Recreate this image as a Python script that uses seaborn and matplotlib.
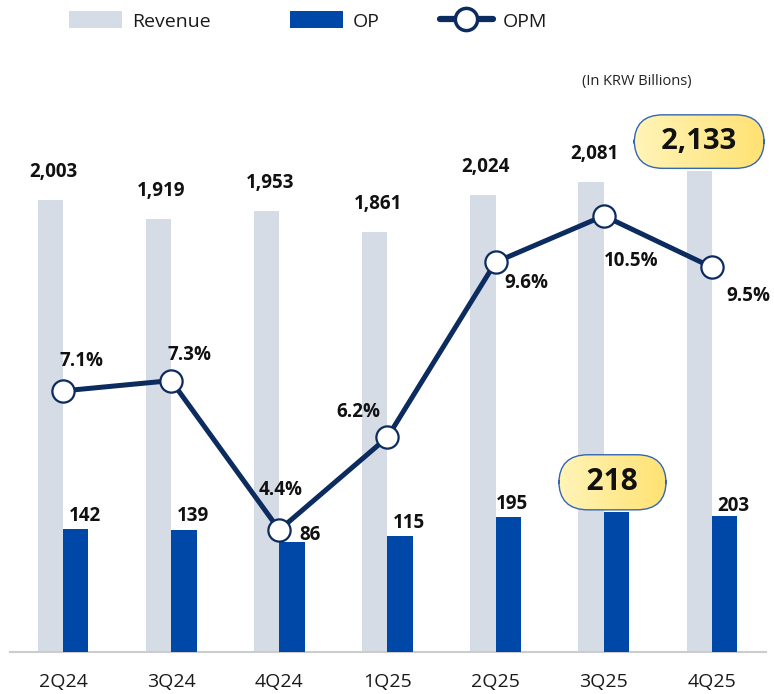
import numpy as np
import matplotlib
matplotlib.use("Agg")
import matplotlib.pyplot as plt
import seaborn as sns
from matplotlib.lines import Line2D
from matplotlib.patches import Patch
from matplotlib.colors import LinearSegmentedColormap

# ---------------- data ----------------
quarters = ["2Q24", "3Q24", "4Q24", "1Q25", "2Q25", "3Q25", "4Q25"]
revenue = [2003, 1919, 1953, 1861, 2024, 2081, 2133]
op = [142, 139, 86, 115, 195, 218, 203]
opm = [7.1, 7.3, 4.4, 6.2, 9.6, 10.5, 9.5]
revenue_labels = ["2,003", "1,919", "1,953", "1,861", "2,024", "2,081", "2,133"]
op_labels = ["142", "139", "86", "115", "195", "218", "203"]
opm_labels = ["7.1%", "7.3%", "4.4%", "6.2%", "9.6%", "10.5%", "9.5%"]
highlight_rev = 6
highlight_op = 5

# ---------------- style ----------------
sns.set_theme(style="white")
plt.rcParams["font.family"] = ["Open Sans", "DejaVu Sans"]

REV_C = "#D6DCE5"
OP_C = "#0048A8"
LINE_C = "#0C2B5E"
TXT_C = "#111111"

W, H = 774, 694
fig = plt.figure(figsize=(W / 100, H / 100), dpi=100)
ax_left, ax_right, ax_bottom, ax_top = 10, 766, 652, 60
ax = fig.add_axes([ax_left / W, 1 - ax_bottom / H,
                   (ax_right - ax_left) / W, (ax_bottom - ax_top) / H])
ax2 = ax.twinx()
ax3 = ax.twinx()

plot_h = ax_bottom - ax_top
rev_px = 0.2257          # pixels per revenue unit
rev_max = plot_h / rev_px
op_floor = -401          # OP axis is a broken/offset axis
opm_px = 51.5            # pixels per OPM %
opm_floor = 2.03

pos = np.arange(len(quarters))
bw = 0.235

sns.barplot(x=pos - bw / 2, y=revenue, native_scale=True, width=bw, color=REV_C,
            saturation=1, errorbar=None, linewidth=0, ax=ax)
sns.barplot(x=pos + bw / 2, y=op, native_scale=True, width=bw, color=OP_C,
            saturation=1, errorbar=None, linewidth=0, ax=ax2)
for p in ax2.patches:
    h = p.get_height()
    p.set_y(op_floor)
    p.set_height(h - op_floor)

sns.lineplot(x=pos, y=opm, ax=ax3, color=LINE_C, linewidth=3.6, marker="o",
             markersize=16, markerfacecolor="white", markeredgecolor=LINE_C,
             markeredgewidth=1.6, zorder=3)

xlim = (-0.49, 6.5)
ax.set_xlim(*xlim)
ax.set_ylim(0, rev_max)
ax2.set_ylim(op_floor, op_floor + rev_max)
ax3.set_ylim(opm_floor, opm_floor + plot_h / opm_px)

for a in (ax, ax2, ax3):
    for s in a.spines.values():
        s.set_visible(False)
    a.set_yticks([])
    a.set_ylabel("")
ax.spines["bottom"].set_visible(True)
ax.spines["bottom"].set_color("#CCCCCC")
ax.spines["bottom"].set_linewidth(1.5)
ax.set_xticks(pos, quarters)
ax.tick_params(axis="x", length=0, pad=15, labelsize=14, labelcolor="#1a1a1a")
ax.set_xlabel("")

# ---------------- labels ----------------
lab_kw = dict(textcoords="offset pixels", ha="center", va="center",
              fontsize=13.5, fontweight="bold", color=TXT_C)
for i, (v, t) in enumerate(zip(revenue, revenue_labels)):
    if i == highlight_rev:
        continue
    ax.annotate(t, xy=(pos[i] - bw / 2, v), xytext=(3, 28), **lab_kw)

op_offsets = [(9, 13), (9, 14), (18, 7), (9, 13), (4, 13), (0, 13), (9, 10)]
for i, (v, t) in enumerate(zip(op, op_labels)):
    if i == highlight_op:
        continue
    ax2.annotate(t, xy=(pos[i] + bw / 2, v), xytext=op_offsets[i], **lab_kw)

opm_offsets = [(19, 30), (18, 26), (1, 40), (-29, 25), (31, -21), (27, -45), (36, -29)]
for i, (v, t) in enumerate(zip(opm, opm_labels)):
    ax3.annotate(t, xy=(pos[i], v), xytext=opm_offsets[i], zorder=4, **lab_kw)

box_kw = dict(boxstyle="round,pad=0.42,rounding_size=0.98", fc="none",
              ec="#3565B5", lw=1)
hl = []
hl.append(ax3.annotate("  " + revenue_labels[highlight_rev] + "  ",
                       xy=(pos[highlight_rev] - bw / 2, revenue[highlight_rev]),
                       xycoords=ax.transData, xytext=(0, 29),
                       textcoords="offset pixels", ha="center", va="center",
                       fontsize=21, fontweight="bold", color=TXT_C,
                       bbox=box_kw, zorder=6))
hl.append(ax3.annotate("  " + op_labels[highlight_op] + "  ",
                       xy=(pos[highlight_op] + bw / 2, op[highlight_op]),
                       xycoords=ax2.transData, xytext=(-4, 30),
                       textcoords="offset pixels", ha="center", va="center",
                       fontsize=21.5, fontweight="bold", color=TXT_C,
                       bbox=box_kw, zorder=6))

# ---------------- legend ----------------
leg_y = 1 - 21 / H
leg_items = [
    (Patch(facecolor=REV_C, edgecolor="none"), "Revenue", 69),
    (Patch(facecolor=OP_C, edgecolor="none"), "OP", 290),
    (Line2D([0], [0], color=LINE_C, lw=4.5, marker="o", ms=16, mfc="white",
            mec=LINE_C, mew=2.5), "OPM", 440),
]
for hnd, lab, xpx in leg_items:
    fig.legend([hnd], [lab], loc="center left", bbox_to_anchor=(xpx / W, leg_y),
               frameon=False, fontsize=14, handlelength=2.7, handleheight=0.95,
               handletextpad=0.55, borderpad=0, borderaxespad=0,
               labelcolor="#1a1a1a")

fig.text(637 / W, 1 - 82 / H, "(In KRW Billions)", ha="center", va="center",
         fontsize=10.5, color="#222222")

# ---------------- gradient fill of highlight boxes ----------------
fig.canvas.draw()
renderer = fig.canvas.get_renderer()
cmap = LinearSegmentedColormap.from_list("hl", ["#FFF4B8", "#FFE272"])
inv = ax3.transData.inverted()
for ann in hl:
    patch = ann.get_bbox_patch()
    bb = patch.get_window_extent(renderer)
    x0, y0 = inv.transform((bb.x0, bb.y0))
    x1, y1 = inv.transform((bb.x1, bb.y1))
    grad = np.linspace(0, 1, 256).reshape(1, -1)
    im = ax3.imshow(grad, extent=[x0, x1, y0, y1], cmap=cmap, aspect="auto",
                    interpolation="bilinear", zorder=5)
    im.set_clip_path(patch)

ax3.set_xlim(*xlim)
ax3.set_ylim(opm_floor, opm_floor + plot_h / opm_px)

fig.savefig("out.png", dpi=100)
